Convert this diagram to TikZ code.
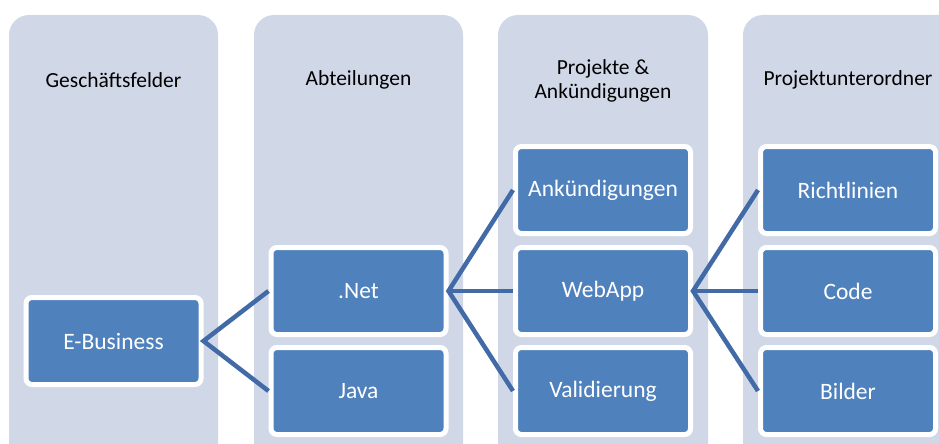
\documentclass[tikz,border=0pt]{standalone}
\usepackage{fontspec}
\setmainfont{Carlito}
\definecolor{colbg}{HTML}{D0D8E8}
\definecolor{boxblue}{HTML}{4F81BD}
\definecolor{linkblue}{HTML}{416AA6}
\tikzset{
  column/.style={fill=colbg, rounded corners=20pt},
  item/.style={rectangle, fill=boxblue, draw=white, line width=5pt, rounded corners=6pt,
    minimum width=175pt, minimum height=87pt, inner sep=0pt, text=white,
    font=\fontsize{23.5}{28}\selectfont},
  header/.style={text=black, align=center, font=\fontsize{21.5}{24}\selectfont},
  link/.style={draw=linkblue, line width=4.5pt, line join=miter}
}
\begin{document}
\begin{tikzpicture}[x=1pt,y=-1pt]
\useasboundingbox (0,0) rectangle (939,444);
\clip (0,0) rectangle (939,444);
\fill[white] (0,0) rectangle (939,444);
\fill[column] (9,15) rectangle (218,480);
\fill[column] (254,15) rectangle (463,480);
\fill[column] (498,15) rectangle (708,480);
\fill[column] (743,15) rectangle (960,480);

\node[header] (h1) at (113.5,80) {Geschäftsfelder};
\node[header] (h2) at (358.5,80) {Abteilungen};
\node[header] (h3) at (603,81) {Projekte \&\\Ankündigungen};
\node[header] (h4) at (848,80) {Projektunterordner};

\node[item] (ebiz) at (113.5,341) {E-Business};
\node[item] (net) at (358.5,291) {.Net};
\node[item] (java) at (358.5,391) {Java};
\node[item] (ank) at (603,190) {Ankündigungen};
\node[item] (web) at (603,291) {WebApp};
\node[item] (val) at (603,391) {Validierung};
\node[item] (richt) at (848,190) {Richtlinien};
\node[item] (code) at (848,291) {Code};
\node[item] (bild) at (848,391) {Bilder};

\draw[link] (net.west) -- (ebiz.east) -- (java.west);
\draw[link] (ank.west) -- (net.east) -- (val.west);
\draw[link] (net.east) -- (web.west);
\draw[link] (richt.west) -- (web.east) -- (bild.west);
\draw[link] (web.east) -- (code.west);
\end{tikzpicture}
\end{document}
